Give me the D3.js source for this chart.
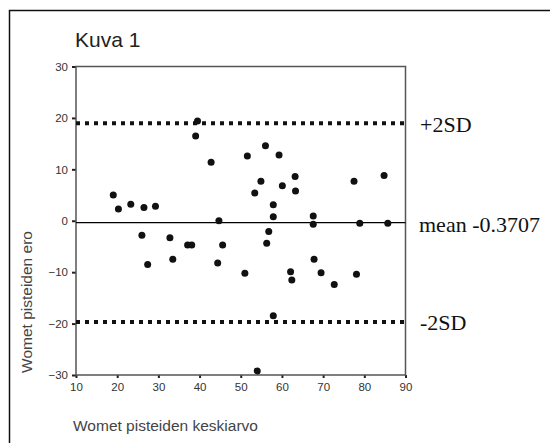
<!DOCTYPE html>
<html>
<head>
<meta charset="utf-8">
<script src="https://cdn.jsdelivr.net/npm/d3@7"></script>
<style>
  body { margin: 0; background: #fff; }
  svg { display: block; }
  .tick text { font-family: "Liberation Sans", Arial, sans-serif; font-size: 11.5px; fill: #333; }
  .tick line { stroke: #222; stroke-width: 2; }
</style>
</head>
<body>
<div id="chart"></div>
<script>
// Bland-Altman data
var meanScores = [19.05, 20.3, 23.3, 26.5, 29.3, 26.0, 32.8, 27.4, 33.5, 37.1, 38.1,
  45.6, 44.4, 51.0, 56.3, 62.1, 62.4, 57.9, 54.0, 39.5, 39.05, 42.8, 51.6, 56.0,
  59.3, 54.9, 53.4, 60.1, 63.2, 63.3, 57.9, 57.9, 44.7, 56.8, 77.5, 84.8, 67.6,
  67.6, 78.9, 85.7, 67.8, 69.5, 72.7, 78.1];
var differences = [5.0, 2.3, 3.2, 2.6, 2.8, -2.8, -3.3, -8.5, -7.5, -4.7, -4.7,
  -4.7, -8.2, -10.2, -4.4, -9.9, -11.5, -18.5, -29.2, 19.4, 16.5, 11.4, 12.6, 14.6,
  12.8, 7.7, 5.4, 6.8, 8.6, 5.8, 3.1, 0.8, 0.0, -2.1, 7.7, 8.8, 0.9,
  -0.7, -0.5, -0.5, -7.5, -10.1, -12.4, -10.4];
var meanDiff = -0.3707;
var limits = [18.95, -19.69];
var limitLabels = ["+2SD", "-2SD"];
var xTicks = [10, 20, 30, 40, 50, 60, 70, 80, 90];
var yTicks = [-30, -20, -10, 0, 10, 20, 30];

var W = 550, H = 443;
var svg = d3.select("#chart").append("svg").attr("width", W).attr("height", H);

// outer frame (only left and top visible)
svg.append("rect").attr("x", 9.5).attr("y", 10.5).attr("width", 700).attr("height", 700)
  .attr("fill", "none").attr("stroke", "#111").attr("stroke-width", 1.5);

var x = d3.scaleLinear().domain([10, 90]).range([76, 405.5]);
var y = d3.scaleLinear().domain([-30, 30]).range([375, 66.5]);

svg.append("text").attr("x", 75).attr("y", 46.5)
  .style("font-family", '"Liberation Sans", Arial, sans-serif').style("font-size", "21px")
  .attr("fill", "#222").text("Kuva 1");

var yAxis = svg.append("g").attr("transform", "translate(" + x(10) + ",0)")
  .call(d3.axisLeft(y).tickValues(yTicks).tickSize(4).tickPadding(4));
yAxis.select(".domain").remove();

var xAxis = svg.append("g").attr("transform", "translate(0," + y(-30) + ")")
  .call(d3.axisBottom(x).tickValues(xTicks).tickSize(3).tickPadding(5));
xAxis.select(".domain").remove();

// plot frame
svg.append("rect").attr("x", x(10)).attr("y", y(30))
  .attr("width", x(90) - x(10)).attr("height", y(-30) - y(30))
  .attr("fill", "none").attr("stroke", "#555").attr("stroke-width", 1.5);

// mean line
svg.append("line").attr("x1", x(10)).attr("x2", x(90))
  .attr("y1", y(meanDiff)).attr("y2", y(meanDiff))
  .attr("stroke", "#000").attr("stroke-width", 1.3);

// +/-2SD lines
svg.selectAll(".limit").data(limits).enter().append("line").attr("class", "limit")
  .attr("x1", x(10)).attr("x2", x(90))
  .attr("y1", function (d) { return y(d); }).attr("y2", function (d) { return y(d); })
  .attr("stroke", "#111").attr("stroke-width", 4).attr("stroke-dasharray", "4,5");

// points
svg.selectAll(".pt").data(meanScores).enter().append("circle").attr("class", "pt")
  .attr("cx", function (d) { return x(d); })
  .attr("cy", function (d, i) { return y(differences[i]); })
  .attr("r", 3.5).attr("fill", "#111");

// right-hand labels
var serif = '"Liberation Serif", "Times New Roman", serif';
svg.selectAll(".lim-label").data(limits).enter().append("text").attr("class", "lim-label")
  .attr("x", 420).attr("y", function (d) { return y(d) + 8.5; })
  .style("font-family", serif).style("font-size", "22px").attr("fill", "#111")
  .text(function (d, i) { return limitLabels[i]; });
svg.append("text").attr("x", 419).attr("y", y(meanDiff) + 9.5)
  .style("font-family", serif).style("font-size", "22px").attr("fill", "#111")
  .text("mean " + meanDiff);

// axis titles
var sans = '"Liberation Sans", Arial, sans-serif';
svg.append("text").attr("transform", "translate(32,302) rotate(-90)")
  .attr("text-anchor", "middle")
  .style("font-family", sans).style("font-size", "15.5px").attr("fill", "#444")
  .text("Womet pisteiden ero");
svg.append("text").attr("x", 73).attr("y", 431)
  .style("font-family", sans).style("font-size", "15.5px").attr("fill", "#444")
  .text("Womet pisteiden keskiarvo");
</script>
</body>
</html>
